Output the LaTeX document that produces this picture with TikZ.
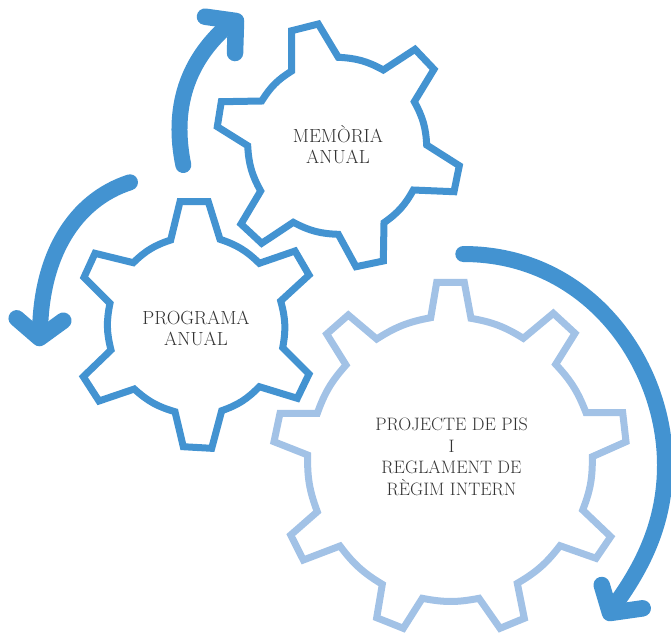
\documentclass[tikz,border=0pt]{standalone}
\definecolor{gearblue}{HTML}{4393D1}
\definecolor{gearlight}{HTML}{A2C2E6}
\definecolor{labelgrey}{HTML}{333333}
\tikzset{
  gearline/.style={line width=7pt,line join=miter,miter limit=4},
  arrowline/.style={draw=gearblue,line width=16pt,line cap=round,line join=round},
  headline/.style={arrowline,line width=16.5pt},
  gearlabel/.style={align=center,text=labelgrey,inner sep=0pt,font=\fontsize{19}{21}\selectfont},
  biglabel/.style={gearlabel,font=\fontsize{18}{21.5}\selectfont},
  arc/.style={bend left=#1},
  arc/.default=13
}
\begin{document}
\begin{tikzpicture}[x=1pt,y=-1pt]
\useasboundingbox (0,0) rectangle (671,633);
% gear: memoria
\draw[gearline,draw=gearblue] (291.7,30.7) -- (318.3,24) -- (338.3,57.3) to[arc] (383.3,70) -- (415,49.3) -- (434,69.3) -- (414.3,101.7) to[arc] (426.7,145) -- (459.3,165.7) -- (454,191.7) -- (413.3,190) to[arc] (384,222.7) -- (383.3,261) -- (356,266.7) -- (338.3,234.3) to[arc] (293.3,222.3) -- (261.7,243.3) -- (241,224) -- (260.7,191) to[arc] (247.7,145.7) -- (217.3,126.7) -- (221.3,101.7) -- (261.7,101) to[arc] (291.7,71) -- cycle;
% gear: programa
\draw[gearline,draw=gearblue] (180,201.7) -- (208.3,201.7) -- (220,239.3) to[arc] (259.3,263.3) -- (295,251) -- (309,275) -- (280.7,301) to[arc] (282.7,347.7) -- (309,374) -- (297.3,398.3) -- (259.3,386.7) to[arc] (221.7,410.7) -- (211.7,448.3) -- (183.3,446.7) -- (175,411.7) to[arc] (134.3,389) -- (99,401) -- (83.3,376.7) -- (111,350) to[arc] (110,303.3) -- (84,277.3) -- (95,253.3) -- (133.3,262.7) to[arc] (170.7,240) -- cycle;
% gear: projecte
\draw[gearline,draw=gearlight] (436.7,282.3) -- (464.3,282.3) -- (471,318.3) to[arc=11] (523.3,338.3) -- (553.3,313.3) -- (575,333.3) -- (555.7,364.3) to[arc=11] (586,412.7) -- (622.7,412.7) -- (626,441.7) -- (592.3,456.7) to[arc=11] (582.7,510) -- (610.7,536.7) -- (596,558.3) -- (560,545.7) to[arc=11] (517.3,583.3) -- (524.3,618.3) -- (500,628.3) -- (479,598.3) to[arc=11] (422.3,598.3) -- (403.3,628.3) -- (376.7,617.7) -- (382.3,584.3) to[arc=11] (340,546) -- (303.3,560) -- (290.7,535) -- (317.3,511.7) to[arc=11] (307.7,455) -- (274,441.7) -- (280,413.3) -- (317.3,413.3) to[arc=11] (346,365) -- (326.7,334) -- (348.3,315) -- (376.7,339) to[arc=11] (430.7,317.7) -- cycle;
% arrows
\draw[arrowline] (183.3,165) .. controls (172,110) and (185,60) .. (233,21);
\draw[headline] (205,16.7) -- (236,21) -- (235,53);
\draw[arrowline] (130,182.3) .. controls (75,200) and (40,255) .. (40,336);
\draw[headline] (16.7,318.3) -- (39.5,338) -- (63.3,320.7);
\draw[arrowline] (463.3,254) .. controls (590,254) and (665,365) .. (665,465) .. controls (665,520) and (645,565) .. (611,610);
\draw[headline] (601.7,585) -- (610,613) -- (642.7,608.3);
% labels
\node[gearlabel] (memoria) at (338,145) {MEMÒRIA\\ANUAL};
\node[gearlabel] (programa) at (196,328) {PROGRAMA\\ANUAL};
\node[biglabel] (projecte) at (451.5,457) {PROJECTE DE PIS\\I\\REGLAMENT DE\\RÈGIM INTERN};
\end{tikzpicture}
\end{document}
